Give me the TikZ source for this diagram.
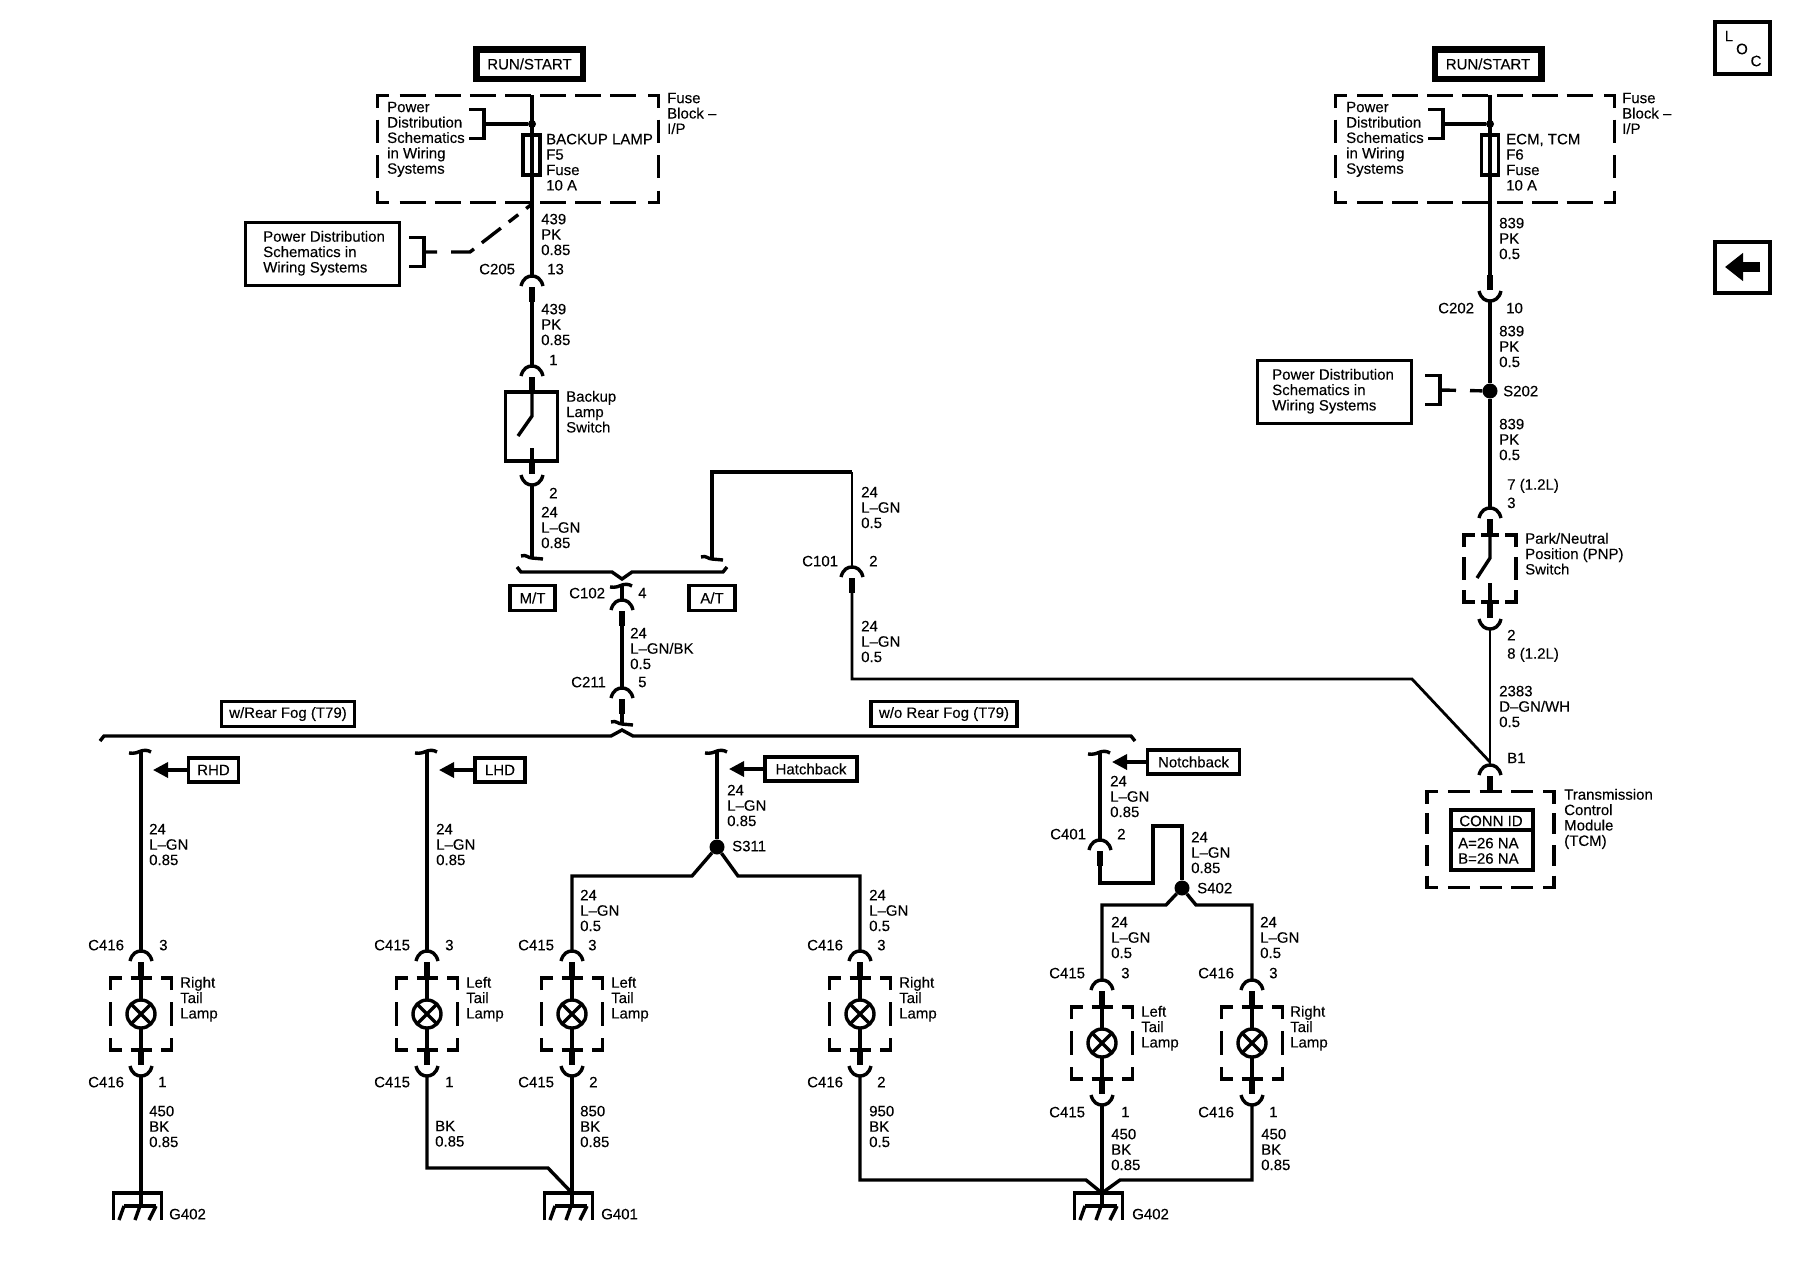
\documentclass[tikz,border=0pt]{standalone}
\usepackage{fontspec}
\setmainfont{Liberation Sans}[FakeBold=0.15]
\usetikzlibrary{arrows.meta}
\tikzset{
  wire/.style    = {line width=3.4pt, line join=miter},
  wirehv/.style  = {line width=4pt, line join=miter},
  wirelt/.style  = {line width=2.8pt, line join=miter},
  stub/.style    = {line width=6.5pt},
  dashln/.style  = {line width=3.8pt},
  lbl/.style     = {anchor=north west, inner sep=0pt, align=left, yshift=5.4pt,
                    font=\fontsize{15}{15.4}\selectfont},
  tag/.style     = {draw, line width=3.4pt, inner sep=0pt,
                    font=\fontsize{15}{15.4}\selectfont},
  heavy/.style   = {tag, line width=6.5pt},
  dot/.style     = {circle, fill=black, inner sep=0pt, minimum size=15pt},
  tagarrow/.style = {wire, -{Triangle[length=15pt,width=15pt]}},
  pics/conup/.style = {code={
    \draw[wire] (-11,10) .. controls (-9,2) and (-4,0) .. (0,0)
      .. controls (4,0) and (9,2) .. (11,10);
    \draw[stub] (0,11) -- (0,26);
    \coordinate (-top) at (0,0);
    \coordinate (-bot) at (0,26);
  }},
  pics/condown/.style = {code={
    \draw[wire] (-11,-10) .. controls (-9,-2) and (-4,0) .. (0,0)
      .. controls (4,0) and (9,-2) .. (11,-10);
    \draw[stub] (0,-11) -- (0,-26);
    \coordinate (-top) at (0,-26);
    \coordinate (-bot) at (0,0);
  }},
  pics/fork/.style = {code={
    \draw[wire] (-11,-2) .. controls (-6,-4) and (-4,0) .. (0,0) -- (11,1);
    \coordinate (-c) at (0,0);
  }},
  pics/forkup/.style = {code={
    \draw[wire] (-12,1) .. controls (-6,2) and (-3,0) .. (0,-1)
      .. controls (3,-2) and (7,-2) .. (10,0);
    \coordinate (-c) at (0,0);
  }},
  pics/bracket/.style = {code={
    \draw[wire] (-15,-14.5) -- (0,-14.5) -- (0,14.5) -- (-15,14.5);
    \coordinate (-mid) at (0,0);
  }},
  pics/dashcase/.style n args = {6}{code={
    % corners first, then evenly spaced dashes along each side
    \foreach \sx/\sy in {-1/-1,1/-1,1/1,-1/1}
      \draw[dashln] ({\sx*#1},{\sy*(#2-12)}) -- ({\sx*#1},{\sy*#2}) -- ({\sx*(#1-11)},{\sy*#2});
    \foreach \i in {1,...,#3} {
      \pgfmathsetmacro{\cx}{-#1+\i*2*#1/(#3+1)}
      \draw[dashln] ({\cx-#5/2},-#2) -- ({\cx+#5/2},-#2);
      \draw[dashln] ({\cx-#5/2},#2) -- ({\cx+#5/2},#2);
    }
    \foreach \i in {1,...,#4} {
      \pgfmathsetmacro{\cy}{-#2+\i*2*#2/(#4+1)}
      \draw[dashln] (-#1,{\cy-#6/2}) -- (-#1,{\cy+#6/2});
      \draw[dashln] (#1,{\cy-#6/2}) -- (#1,{\cy+#6/2});
    }
  }},
  pics/lamp/.style = {code={
    \pic {dashcase={30.5}{36}{1}{1}{21}{24}};
    \draw[wire] (0,-36) -- (0,36);
    \draw[wire, fill=white] (0,0) circle (14);
    \draw[wire] (-10,-10) -- (10,10) (-10,10) -- (10,-10);
    \coordinate (-top) at (0,-36);
    \coordinate (-bot) at (0,36);
  }},
  pics/ground/.style = {code={
    \draw[wire] (-27.5,27) -- (-27.5,0) -- (20.5,0) -- (20.5,27);
    \draw[wire] (0,0) -- (0,13) (-17,13) -- (15,13);
    \draw[wire] (-17,13) -- (-22,27) (-1,13) -- (-6,27) (15,13) -- (8,27);
    \coordinate (-top) at (0,0);
  }}
}
\begin{document}
\begin{tikzpicture}[x=1pt,y=-1pt]
\useasboundingbox (0,0) rectangle (1800,1280);

% top right buttons
\node[tag, line width=4pt, minimum width=55pt, minimum height=52pt] (loc) at (1742.5,48) {};
\node[inner sep=0pt, font=\fontsize{15}{15}\selectfont] (locl) at (1729,36) {L};
\node[inner sep=0pt, font=\fontsize{15}{15}\selectfont] (loco) at (1742,49) {O};
\node[inner sep=0pt, font=\fontsize{15}{15}\selectfont] (locc) at (1756,61) {C};
\node[tag, line width=4pt, minimum width=55pt, minimum height=51pt] (back) at (1742.5,267.5) {};
\coordinate (backr) at (1760,267);
\coordinate (backl) at (1725,267);
\draw[line width=10pt, -{Triangle[length=18pt,width=27pt]}] (backr) -- (backl);

% backup lamp feed
\node[heavy, minimum width=106.5pt, minimum height=29.5pt] (run1) at (529.5,64) {RUN/START};
\pic (fb1) at (518,149) {dashcase={140.5}{53.5}{7}{2}{26}{23}};
\coordinate (top1) at (532,95);
\node[draw, wire, minimum width=17pt, minimum height=40pt, inner sep=0pt] (f5) at (531.5,155) {};
\node[circle, fill=black, inner sep=0pt, minimum size=8pt] (j1) at (532,124) {};
\pic (brk1) at (484,124) {bracket};
\pic (brk2) at (424,252) {bracket};
\pic (c205) at (532,276) {conup};
\pic (c205b) at (532,366) {conup};
\draw[wirehv] (top1) -- (c205-top);
\draw[wire] (brk1-mid) -- (j1);
\draw[wirehv] (c205-bot) -- (c205b-top);
\coordinate (bend1) at (470,252);
\coordinate (bend2) at (532,204);
\draw[wire, dash pattern=on 13pt off 14pt on 24pt off 10pt on 24pt off 10pt on 12pt off 10pt] (brk2-mid) -- (bend1) -- (bend2);
\node[tag, minimum width=153.5pt, minimum height=62.5pt] (pd1) at (322.5,254) {};
\node[lbl] (pd1t) at (263,236) {Power Distribution\\Schematics in\\Wiring Systems};
\node[lbl] (t1) at (387,107) {Power\\Distribution\\Schematics\\in Wiring\\Systems};
\node[lbl] (t2) at (546,139) {BACKUP LAMP\\F5\\Fuse\\10 A};
\node[lbl] (t3) at (667,98) {Fuse\\Block --\\I/P};
\node[lbl] (w1) at (541,219) {439\\PK\\0.85};
\node[lbl] (w2) at (541,309) {439\\PK\\0.85};
\node[lbl] (n205) at (479,269) {C205};
\node[lbl] (p205) at (547,269) {13};
\node[lbl] (p205b) at (549,360) {1};

% backup lamp switch
\node[draw, wire, minimum width=52pt, minimum height=69pt, inner sep=0pt] (sw1) at (531.5,426.5) {};
\coordinate (sw1a) at (532,391);
\coordinate (sw1b) at (532,416);
\coordinate (sw1c) at (518,436);
\coordinate (sw1d) at (532,448);
\coordinate (sw1e) at (532,461);
\draw[wire] (sw1a) -- (sw1b) -- (sw1c);
\draw[wire] (sw1d) -- (sw1e);
\pic (c2sw) at (532,485) {condown};
\pic (fmt) at (532,558) {fork};
\draw[wire] (c2sw-bot) -- (fmt-c);
\node[lbl] (sw1t) at (566,396) {Backup\\Lamp\\Switch};
\node[lbl] (p2sw) at (549,493) {2};
\node[lbl] (w3) at (541,512) {24\\L--GN\\0.85};

% M/T and A/T
\draw[wire] (517,567) -- (521,572) -- (612,572) -- (622,579) -- (632,572) -- (723,572) -- (727,567);
\node[tag, minimum width=45pt, minimum height=25pt] (mt) at (532.5,598) {M/T};
\node[tag, minimum width=46pt, minimum height=25pt] (at) at (712,598) {A/T};
\pic (fat) at (712,559) {fork};
\coordinate (at1) at (712,472);
\coordinate (at2) at (852,472);
\pic (c101) at (852,567) {conup};
\draw[wire] (fat-c) -- (at1) -- (at2);
\draw[wirelt] (at2) -- (c101-top);
\coordinate (tcm1) at (852,679);
\coordinate (tcm2) at (1412,679);
\coordinate (tcm3) at (1490,762);
\draw[wirelt] (c101-bot) -- (tcm1) -- (tcm2) -- (tcm3);
\node[lbl] (w4) at (861,492) {24\\L--GN\\0.5};
\node[lbl] (n101) at (802,561) {C101};
\node[lbl] (p101) at (869,561) {2};
\node[lbl] (w5) at (861,626) {24\\L--GN\\0.5};

% C102 down to the bus
\pic (f102) at (622,586) {forkup};
\pic (c102) at (622,600) {conup};
\draw[wirehv] (f102-c) -- (c102-top);
\pic (c211) at (622,688) {conup};
\draw[wirehv] (c102-bot) -- (c211-top);
\pic (f211) at (622,724) {fork};
\draw[wirehv] (c211-bot) -- (f211-c);
\draw[wire] (100,741) -- (104,736) -- (611,736) -- (622,730) -- (633,736) -- (1131,736) -- (1135,741);
\node[lbl] (n102) at (569,593) {C102};
\node[lbl] (p102) at (638,593) {4};
\node[lbl] (w6) at (630,633) {24\\L--GN/BK\\0.5};
\node[lbl] (n211) at (571,682) {C211};
\node[lbl] (p211) at (638,682) {5};
\node[tag, minimum width=133pt, minimum height=25pt] (rf1) at (288,714) {w/Rear Fog (T79)};
\node[tag, minimum width=146pt, minimum height=25pt] (rf2) at (944,714) {w/o Rear Fog (T79)};

% RHD branch
\pic (fa) at (141,752) {forkup};
\node[tag, minimum width=50pt, minimum height=24pt] (rhd) at (213.5,770) {RHD};
\coordinate (rhda) at (153,770);
\draw[tagarrow] (rhd) -- (rhda);
\pic (c416a) at (141,951) {conup};
\draw[wire] (fa-c) -- (c416a-top);
\pic (la) at (141,1014) {lamp};
\pic (c416b) at (141,1076) {condown};
\pic (ga) at (141,1193) {ground};
\draw[wire] (c416b-bot) -- (ga-top);
\node[lbl] (wa1) at (149,829) {24\\L--GN\\0.85};
\node[lbl] (na1) at (88,945) {C416};
\node[lbl] (pa1) at (159,945) {3};
\node[lbl] (la1) at (180,982) {Right\\Tail\\Lamp};
\node[lbl] (na2) at (88,1082) {C416};
\node[lbl] (pa2) at (158,1082) {1};
\node[lbl] (wa2) at (149,1111) {450\\BK\\0.85};
\node[lbl] (ga1) at (169,1214) {G402};

% LHD branch
\pic (fb) at (427,752) {forkup};
\node[tag, minimum width=50pt, minimum height=24pt] (lhd) at (500,770) {LHD};
\coordinate (lhda) at (439,770);
\draw[tagarrow] (lhd) -- (lhda);
\pic (c415a) at (427,951) {conup};
\draw[wire] (fb-c) -- (c415a-top);
\pic (lb) at (427,1014) {lamp};
\pic (c415b) at (427,1076) {condown};
\coordinate (b1) at (427,1168);
\coordinate (b2) at (548,1168);
\pic (gb) at (572,1193) {ground};
\draw[wire] (c415b-bot) -- (b1) -- (b2) -- (gb-top);
\node[lbl] (wb1) at (436,829) {24\\L--GN\\0.85};
\node[lbl] (nb1) at (374,945) {C415};
\node[lbl] (pb1) at (445,945) {3};
\node[lbl] (lb1) at (466,982) {Left\\Tail\\Lamp};
\node[lbl] (nb2) at (374,1082) {C415};
\node[lbl] (pb2) at (445,1082) {1};
\node[lbl] (wb2) at (435,1126) {BK\\0.85};
\node[lbl] (gb1) at (601,1214) {G401};

% Hatchback branch
\pic (fc) at (717,752) {forkup};
\node[tag, minimum width=92pt, minimum height=24pt] (hb) at (811,769) {Hatchback};
\coordinate (hba) at (729,769);
\draw[tagarrow] (hb) -- (hba);
\node[dot] (s311) at (717,847) {};
\draw[wire] (fc-c) -- (s311);
\coordinate (c1) at (692,876);
\coordinate (c2) at (572,876);
\coordinate (c3) at (738,876);
\coordinate (c4) at (860,876);
\pic (c415c) at (572,951) {conup};
\pic (c416c) at (860,951) {conup};
\draw[wire] (s311) -- (c1) -- (c2) -- (c415c-top);
\draw[wire] (s311) -- (c3) -- (c4) -- (c416c-top);
\pic (lc) at (572,1014) {lamp};
\pic (ld) at (860,1014) {lamp};
\pic (c415d) at (572,1076) {condown};
\pic (c416d) at (860,1076) {condown};
\draw[wire] (c415d-bot) -- (gb-top);
\pic (gd) at (1102,1193) {ground};
\coordinate (d1) at (860,1180);
\coordinate (d2) at (1086,1180);
\draw[wire] (c416d-bot) -- (d1) -- (d2) -- (gd-top);
\node[lbl] (wc0) at (727,790) {24\\L--GN\\0.85};
\node[lbl] (sc) at (732,846) {S311};
\node[lbl] (wc1) at (580,895) {24\\L--GN\\0.5};
\node[lbl] (nc1) at (518,945) {C415};
\node[lbl] (pc1) at (588,945) {3};
\node[lbl] (lc1) at (611,982) {Left\\Tail\\Lamp};
\node[lbl] (nc2) at (518,1082) {C415};
\node[lbl] (pc2) at (589,1082) {2};
\node[lbl] (wc2) at (580,1111) {850\\BK\\0.85};
\node[lbl] (wd1) at (869,895) {24\\L--GN\\0.5};
\node[lbl] (nd1) at (807,945) {C416};
\node[lbl] (pd1n) at (877,945) {3};
\node[lbl] (ld1) at (899,982) {Right\\Tail\\Lamp};
\node[lbl] (nd2) at (807,1082) {C416};
\node[lbl] (pd2) at (877,1082) {2};
\node[lbl] (wd2) at (869,1111) {950\\BK\\0.5};

% Notchback branch
\pic (fe) at (1100,753) {forkup};
\node[tag, minimum width=91.5pt, minimum height=24pt] (nb) at (1193.5,762) {Notchback};
\coordinate (nba) at (1112,762);
\draw[tagarrow] (nb) -- (nba);
\pic (c401) at (1100,840) {conup};
\draw[wire] (fe-c) -- (c401-top);
\coordinate (e1) at (1100,883);
\coordinate (e2) at (1153,883);
\coordinate (e3) at (1153,826);
\coordinate (e4) at (1182,826);
\node[dot] (s402) at (1182,888) {};
\draw[wire] (c401-bot) -- (e1) -- (e2) -- (e3) -- (e4) -- (s402);
\coordinate (e5) at (1166,905);
\coordinate (e6) at (1102,905);
\coordinate (e7) at (1196,905);
\coordinate (e8) at (1252,905);
\pic (c415e) at (1102,980) {conup};
\pic (c416e) at (1252,980) {conup};
\draw[wire] (s402) -- (e5) -- (e6) -- (c415e-top);
\draw[wire] (s402) -- (e7) -- (e8) -- (c416e-top);
\pic (le) at (1102,1043) {lamp};
\pic (lf) at (1252,1043) {lamp};
\pic (c415f) at (1102,1105) {condown};
\pic (c416f) at (1252,1105) {condown};
\draw[wire] (c415f-bot) -- (gd-top);
\coordinate (f1) at (1252,1180);
\coordinate (f2) at (1120,1180);
\draw[wire] (c416f-bot) -- (f1) -- (f2) -- (gd-top);
\node[lbl] (we0) at (1110,781) {24\\L--GN\\0.85};
\node[lbl] (ne0) at (1050,834) {C401};
\node[lbl] (pe0) at (1117,834) {2};
\node[lbl] (we1) at (1191,837) {24\\L--GN\\0.85};
\node[lbl] (se) at (1197,888) {S402};
\node[lbl] (we2) at (1111,922) {24\\L--GN\\0.5};
\node[lbl] (ne1) at (1049,973) {C415};
\node[lbl] (pe1) at (1121,973) {3};
\node[lbl] (le1) at (1141,1011) {Left\\Tail\\Lamp};
\node[lbl] (ne2) at (1049,1112) {C415};
\node[lbl] (pe2) at (1121,1112) {1};
\node[lbl] (we3) at (1111,1134) {450\\BK\\0.85};
\node[lbl] (ge) at (1132,1214) {G402};
\node[lbl] (wf2) at (1260,922) {24\\L--GN\\0.5};
\node[lbl] (nf1) at (1198,973) {C416};
\node[lbl] (pf1) at (1269,973) {3};
\node[lbl] (lf1) at (1290,1011) {Right\\Tail\\Lamp};
\node[lbl] (nf2) at (1198,1112) {C416};
\node[lbl] (pf2) at (1269,1112) {1};
\node[lbl] (wf3) at (1261,1134) {450\\BK\\0.85};

% TCM feed
\node[heavy, minimum width=106.5pt, minimum height=29.5pt] (run2) at (1488,64) {RUN/START};
\pic (fb2) at (1475,149) {dashcase={139.5}{53.5}{7}{2}{26}{23}};
\coordinate (top2) at (1490,95);
\node[draw, wire, minimum width=17pt, minimum height=40pt, inner sep=0pt] (f6) at (1490,155) {};
\node[circle, fill=black, inner sep=0pt, minimum size=8pt] (j2) at (1490,124) {};
\pic (brk3) at (1443,124) {bracket};
\pic (c202) at (1490,301) {condown};
\draw[wire] (top2) -- (c202-top);
\draw[wire] (brk3-mid) -- (j2);
\node[dot] (s202) at (1490,391) {};
\draw[wire] (c202-bot) -- (s202);
\pic (brk4) at (1440,390) {bracket};
\draw[wire, dash pattern=on 16pt off 14pt] (brk4-mid) -- (s202);
\node[tag, minimum width=153.5pt, minimum height=62.5pt] (pd2) at (1334.5,392) {};
\node[lbl] (pd2t) at (1272,374) {Power Distribution\\Schematics in\\Wiring Systems};
\node[lbl] (r1) at (1346,107) {Power\\Distribution\\Schematics\\in Wiring\\Systems};
\node[lbl] (r2) at (1506,139) {ECM, TCM\\F6\\Fuse\\10 A};
\node[lbl] (r3) at (1622,98) {Fuse\\Block --\\I/P};
\node[lbl] (r4) at (1499,223) {839\\PK\\0.5};
\node[lbl] (n202) at (1438,308) {C202};
\node[lbl] (p202) at (1506,308) {10};
\node[lbl] (r5) at (1499,331) {839\\PK\\0.5};
\node[lbl] (s202t) at (1503,391) {S202};
\node[lbl] (r6) at (1499,424) {839\\PK\\0.5};
\node[lbl] (p7) at (1507,484) {7 (1.2L)\\[3pt]3};

% PNP switch
\pic (c3pn) at (1490,508) {conup};
\draw[wire] (s202) -- (c3pn-top);
\pic (pnp) at (1490,568.5) {dashcase={26}{33.5}{1}{1}{18}{23}};
\coordinate (pn1) at (1490,535);
\coordinate (pn2) at (1490,558);
\coordinate (pn3) at (1477,578);
\coordinate (pn4) at (1490,583);
\coordinate (pn5) at (1490,604);
\draw[wire] (pn1) -- (pn2) -- (pn3);
\draw[wire] (pn4) -- (pn5);
\pic (c2pn) at (1490,629) {condown};
\pic (b1) at (1490,765) {conup};
\draw[wirelt] (c2pn-bot) -- (b1-top);
\node[lbl] (pnt) at (1525,538) {Park/Neutral\\Position (PNP)\\Switch};
\node[lbl] (p8) at (1507,635) {2\\[3pt]8 (1.2L)};
\node[lbl] (r7) at (1499,691) {2383\\D--GN/WH\\0.5};
\node[lbl] (b1t) at (1507,758) {B1};

% TCM
\pic (tcm) at (1490.5,839.5) {dashcase={63.5}{48}{3}{2}{22}{21}};
\node[tag, line width=4pt, minimum width=82.5pt, minimum height=60.5pt] (conn) at (1492,840) {};
\coordinate (connl) at (1449,830);
\coordinate (connr) at (1535,830);
\draw[wire] (connl) -- (connr);
\node[inner sep=0pt, font=\fontsize{15}{15.4}\selectfont] (connt) at (1491,821) {CONN ID};
\node[lbl] (conna) at (1458,843) {A=26 NA\\B=26 NA};
\node[lbl] (tcmt) at (1564,794) {Transmission\\Control\\Module\\(TCM)};
\end{tikzpicture}
\end{document}
